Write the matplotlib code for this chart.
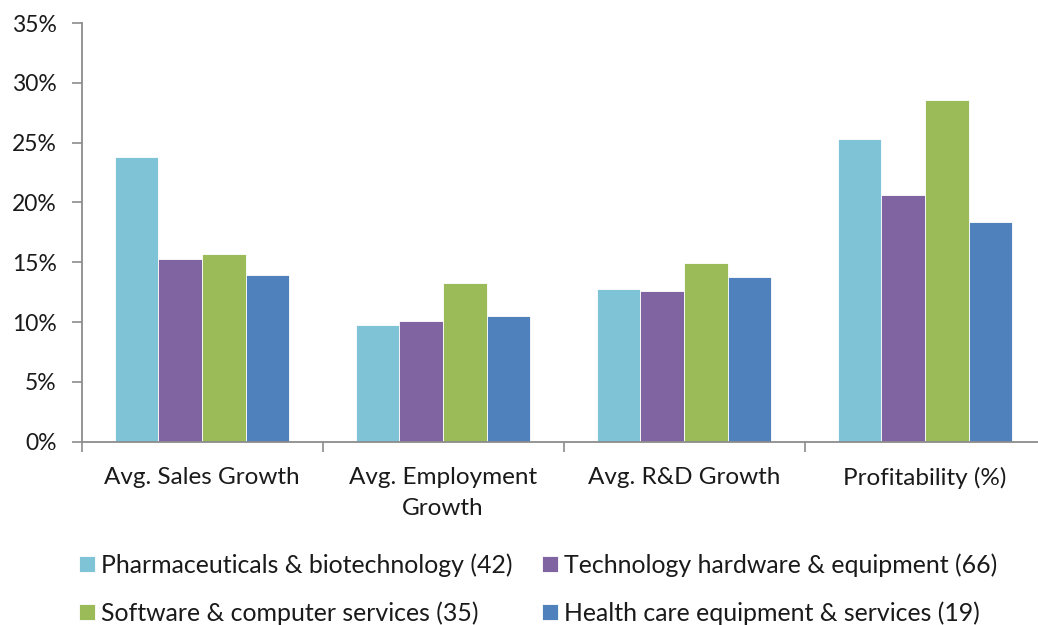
import matplotlib
matplotlib.use("Agg")
import matplotlib.pyplot as plt
import numpy as np
from matplotlib.ticker import FuncFormatter

plt.rcParams['font.family'] = ['Lato', 'DejaVu Sans']

categories = ["Avg. Sales Growth", "Avg. Employment\nGrowth", "Avg. R&D Growth", "Profitability (%)"]
series_names = ["Pharmaceuticals & biotechnology (42)",
                "Technology hardware & equipment (66)",
                "Software & computer services (35)",
                "Health care equipment & services (19)"]
pharma = [23.8, 9.75, 12.75, 25.3]
tech_hw = [15.3, 10.1, 12.6, 20.6]
software = [15.65, 13.3, 14.9, 28.6]
health = [13.95, 10.5, 13.8, 18.35]
colors = ["#7EC3D6", "#8064A2", "#9BBB59", "#4F81BD"]
yticks = [0, 5, 10, 15, 20, 25, 30, 35]

W, H = 1038, 625
fig = plt.figure(figsize=(W / 100, H / 100), dpi=100)
ax = fig.add_axes([81.5 / W, 183.3 / H, 964 / W, (602 - 183.3) / H])

x = np.arange(len(categories))
bw = 0.181
handles = []
for i, (vals, c) in enumerate(zip([pharma, tech_hw, software, health], colors)):
    b = ax.bar(x + (i - 1.5) * bw, vals, width=bw, color=c,
               edgecolor="white", linewidth=0.6)
    handles.append(b)

ax.set_xlim(-0.5, 3.5)
ax.set_ylim(0, 35)
ax.set_yticks(yticks)
ax.yaxis.set_major_formatter(FuncFormatter(lambda v, p: f"{v:.0f}%"))
ax.set_xticks(np.arange(-0.5, 4.0, 1.0))
ax.set_xticklabels([])
ax.set_xticks(x, minor=True)
ax.set_xticklabels(categories, minor=True)
ax.tick_params(axis='x', which='minor', length=0, pad=18.5, labelsize=17.5, colors='#1a1a1a')
ax.tick_params(axis='x', which='major', length=7, width=1.2, color='#8c8c8c', direction='out')
ax.tick_params(axis='y', length=7, width=1.2, color='#8c8c8c', direction='out',
               labelsize=16.5, labelcolor='#1a1a1a', pad=11)
for lab in ax.get_xticklabels(minor=True):
    lab.set_linespacing(1.56)

for s in ['top', 'right']:
    ax.spines[s].set_visible(False)
for s in ['left', 'bottom']:
    ax.spines[s].set_color('#8c8c8c')
    ax.spines[s].set_linewidth(1.3)

leg_kw = dict(frameon=False, fontsize=17.9, handlelength=0.65, handleheight=0.6,
              handletextpad=0.22, labelspacing=1.0, borderpad=0, borderaxespad=0,
              labelcolor='#1a1a1a')
leg1 = fig.legend([handles[0], handles[2]], [series_names[0], series_names[2]],
                  loc='upper left', bbox_to_anchor=(79 / W, 1 - 553 / H), **leg_kw)
leg2 = fig.legend([handles[1], handles[3]], [series_names[1], series_names[3]],
                  loc='upper left', bbox_to_anchor=(542 / W, 1 - 553 / H), **leg_kw)

fig.savefig("out.png", dpi=100, facecolor="white")
